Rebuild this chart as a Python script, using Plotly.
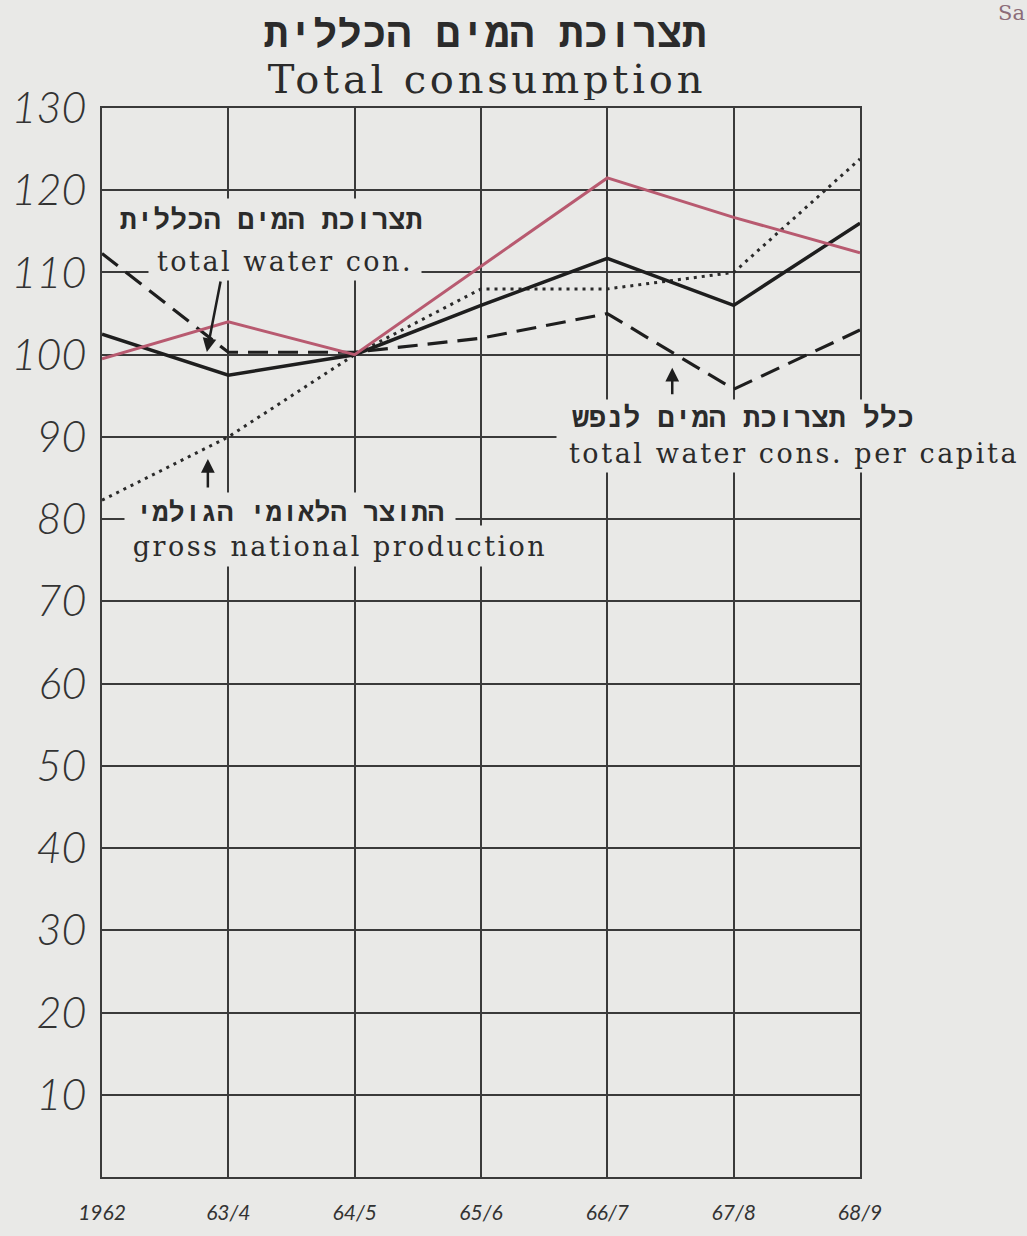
import plotly.graph_objects as go

# ---- data ----
categories = ["1962", "63/4", "64/5", "65/6", "66/7", "67/8", "68/9"]
total_consumption_red = [99.5, 104, 100, 110.8, 121.5, 116.7, 112.4]
total_consumption_black = [102.5, 97.5, 100, 106, 111.7, 106, 116]
total_water_per_capita = [112.3, 100.3, 100.3, 102, 105, 95.8, 103]
gross_national_production = [82.3, 90, 100, 108, 108, 110, 123.8]
y_ticks = [10, 20, 30, 40, 50, 60, 70, 80, 90, 100, 110, 120, 130]

BG = "#e9e9e7"
GRID = "#3a3a3a"
W, H = 1027, 1236
L, R, T, B = 101, 167, 108, 50
PW, PH = W - L - R, H - T - B


def px(x):
    return (x - L) / PW


def py(y):
    return (H - B - y) / PH


fig = go.Figure()
fig.add_trace(go.Scatter(x=categories, y=gross_national_production, mode="lines",
                         line=dict(color="#2a2a2a", width=3, dash="3px,5px"),
                         name="gross national production"))
fig.add_trace(go.Scatter(x=categories, y=total_water_per_capita, mode="lines",
                         line=dict(color="#1e1e1e", width=3.2, dash="20px,10px"),
                         name="total water cons. per capita"))
fig.add_trace(go.Scatter(x=categories, y=total_consumption_black, mode="lines",
                         line=dict(color="#1e1e1e", width=3.5),
                         name="total water con."))
fig.add_trace(go.Scatter(x=categories, y=total_consumption_red, mode="lines",
                         line=dict(color="#b85a70", width=3),
                         name="total consumption"))

HEB = "Liberation Mono, DejaVu Sans Mono, monospace"
SER = "DejaVu Serif, Liberation Serif, serif"

annotations = []


def label(text, cx, cy, w, h, family, size, bold=False, bg=True, spacing=None):
    t = ("<b>%s</b>" % text) if bold else text
    if spacing:
        t = '<span style="letter-spacing:%spx">%s</span>' % (spacing, t)
    annotations.append(dict(
        text=t,
        xref="paper", yref="paper", x=px(cx), y=py(cy),
        xanchor="center", yanchor="middle", showarrow=False,
        width=w, height=h, bgcolor=BG if bg else None,
        font=dict(family=family, size=size, color="#2b2b2b"),
        borderpad=0,
    ))


def arrow(hx, hy, tx, ty):
    annotations.append(dict(
        text="", xref="paper", yref="paper", x=px(hx), y=py(hy),
        ax=tx - hx, ay=ty - hy, showarrow=True, arrowhead=2,
        arrowsize=1.1, arrowwidth=2.5, arrowcolor="#1e1e1e",
    ))


# titles
label("תצרוכת המים הכללית", 485, 35, 500, 38, HEB, 41, bold=True, bg=False)
label("Total consumption", 487, 79, 480, 42, SER, 40, bg=False, spacing=3.8)

# total water con.
label("תצרוכת המים הכללית", 270, 222, 330, 44, HEB, 28, bold=True)
label("total water con.", 284, 262, 272, 38, SER, 27, spacing=2.5)
arrow(206, 354, 220, 282)

# gross national production
label("התוצר הלאומי הגולמי", 289, 517, 330, 42, HEB, 27, bold=True)
label("gross national production", 339, 550, 430, 40, SER, 27, spacing=2.5)
arrow(207, 462, 207, 492)

# per capita
label("כלל תצרוכת המים לנפש", 743, 422, 372, 38, HEB, 28.5, bold=True)
label("total water cons. per capita", 794, 456, 466, 38, SER, 27, spacing=2.6)
arrow(672, 370, 672, 398)

# cropped text from neighbouring page
annotations.append(dict(text="Sa", xref="paper", yref="paper", x=px(996), y=py(12),
                        xanchor="left", yanchor="middle", showarrow=False,
                        font=dict(family=SER, size=21, color="#8c6c78")))

fig.update_layout(
    width=W, height=H, autosize=False,
    margin=dict(l=L, r=R, t=T, b=B, pad=0),
    paper_bgcolor=BG, plot_bgcolor=BG,
    showlegend=False,
    annotations=annotations,
    xaxis=dict(type="category", range=[0, 6], showgrid=True, gridcolor=GRID, gridwidth=1.5,
               showline=True, linecolor=GRID, linewidth=2, mirror=True, ticks="",
               tickfont=dict(family="Lato", size=21, color="#333", style="italic"),
               ticklabelstandoff=16, zeroline=False, fixedrange=True),
    yaxis=dict(range=[0, 130], tickvals=y_ticks, ticktext=[str(v) for v in y_ticks],
               showgrid=True, gridcolor=GRID, gridwidth=1.5,
               showline=True, linecolor=GRID, linewidth=2, mirror=True, ticks="",
               tickfont=dict(family="Lato", size=43, color="#333", style="italic", weight=300),
               ticklabelstandoff=5, zeroline=False, fixedrange=True),
)

fig.write_html(
    "out.html",
    config={"displayModeBar": False},
    post_script="document.body.style.margin='0';document.body.style.background='%s';" % BG,
)
